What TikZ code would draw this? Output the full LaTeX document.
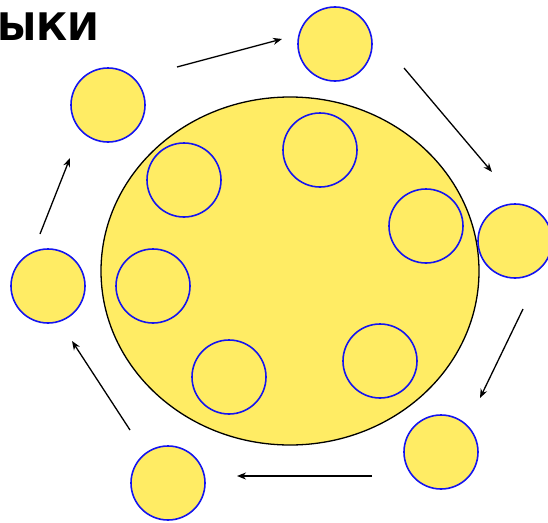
\documentclass[tikz,border=0pt]{standalone}
\usepackage{fontspec}
\newfontfamily\titlefont{DejaVu Sans}
\definecolor{fillyellow}{RGB}{255,236,100}
\definecolor{ringblue}{RGB}{20,20,240}
\tikzset{
  ball/.style={circle, draw=ringblue, fill=fillyellow, line width=1.6pt, minimum size=74pt, inner sep=0pt},
  flow/.style={-{Stealth[length=9pt,width=7pt]}, line width=1.3pt, black}
}
\usetikzlibrary{arrows.meta}
\begin{document}
\begin{tikzpicture}[x=1pt,y=-1pt]
\useasboundingbox (0,0) rectangle (548,522);
\clip (0,0) rectangle (548,522);
\node[anchor=east, font=\titlefont\bfseries\fontsize{38}{40}\selectfont, inner sep=0pt] (title) at (100,27) {ЫКИ};
\draw[fill=fillyellow, draw=black, line width=1.3pt] (290,271) ellipse [x radius=189, y radius=174];
% inner balls
\node[ball] (i1) at (320,150) {};
\node[ball] (i2) at (184,180) {};
\node[ball] (i3) at (426,226) {};
\node[ball] (i4) at (153,286) {};
\node[ball] (i5) at (229,377) {};
\node[ball] (i6) at (380,361) {};
% outer balls
\node[ball] (o1) at (335,44) {};
\node[ball] (o2) at (515,241) {};
\node[ball] (o3) at (441,452) {};
\node[ball] (o4) at (168,483) {};
\node[ball] (o5) at (48,286) {};
\node[ball] (o6) at (108,105) {};
% arrow ends
\coordinate (a1s) at (177,67);  \coordinate (a1e) at (282,39);
\coordinate (a2s) at (404,68);  \coordinate (a2e) at (492,172);
\coordinate (a3s) at (523,309); \coordinate (a3e) at (480,398);
\coordinate (a4s) at (372,476); \coordinate (a4e) at (237,476);
\coordinate (a5s) at (130,430); \coordinate (a5e) at (72,341);
\coordinate (a6s) at (40,234);  \coordinate (a6e) at (70,158);
\draw[flow] (a1s) -- (a1e);
\draw[flow] (a2s) -- (a2e);
\draw[flow] (a3s) -- (a3e);
\draw[flow] (a4s) -- (a4e);
\draw[flow] (a5s) -- (a5e);
\draw[flow] (a6s) -- (a6e);
\end{tikzpicture}
\end{document}
